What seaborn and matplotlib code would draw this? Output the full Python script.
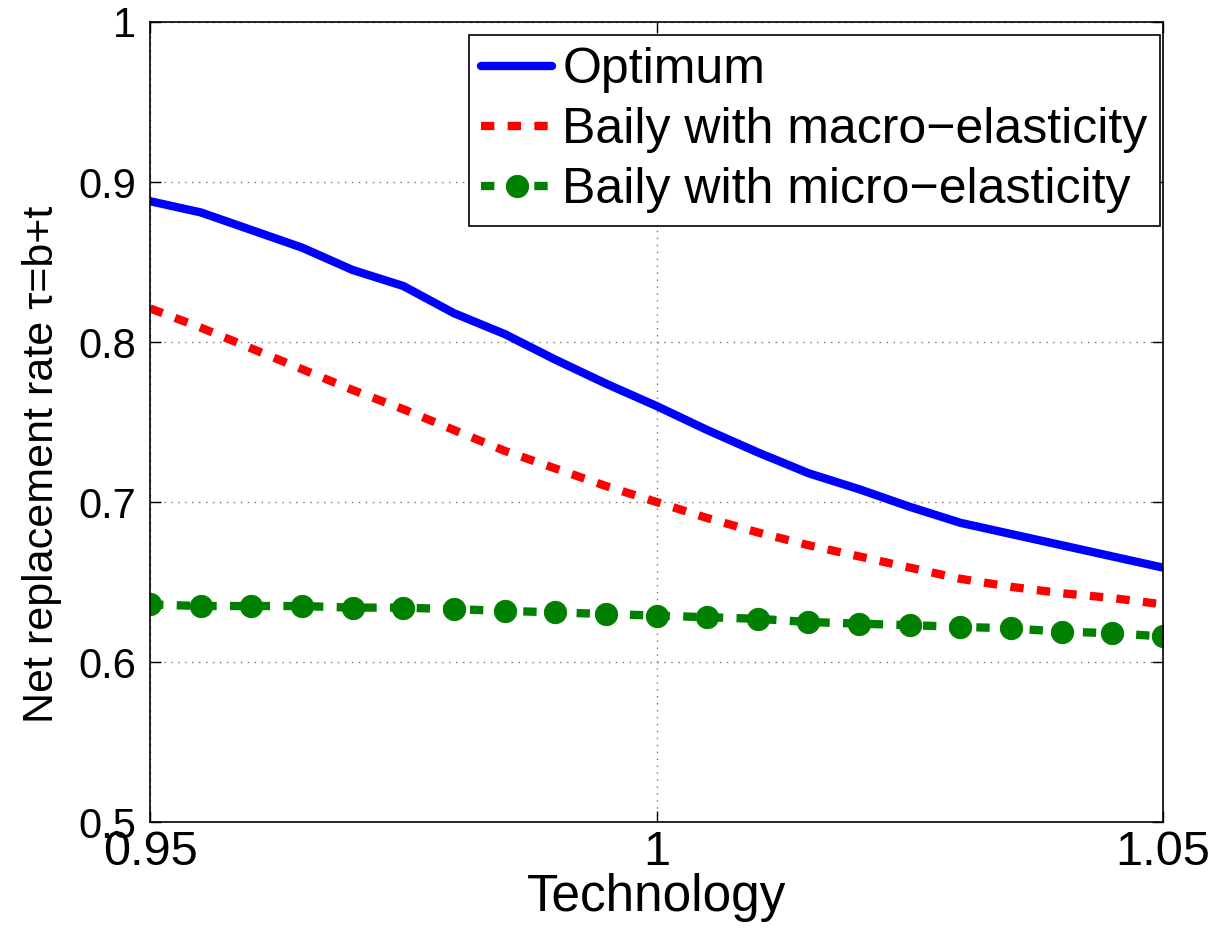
import numpy as np
import pandas as pd
import seaborn as sns
import matplotlib.pyplot as plt

# data
technology = [0.95, 0.955, 0.96, 0.965, 0.97, 0.975, 0.98, 0.985, 0.99, 0.995, 1.0,
              1.005, 1.01, 1.015, 1.02, 1.025, 1.03, 1.035, 1.04, 1.045, 1.05]
optimum = [0.888, 0.881, 0.870, 0.859, 0.845, 0.835, 0.818, 0.805, 0.789, 0.774, 0.760,
           0.745, 0.731, 0.718, 0.708, 0.697, 0.687, 0.680, 0.673, 0.666, 0.659]
baily_macro = [0.821, 0.809, 0.796, 0.783, 0.770, 0.758, 0.745, 0.732, 0.721, 0.710, 0.700,
               0.690, 0.681, 0.673, 0.666, 0.659, 0.652, 0.647, 0.643, 0.640, 0.636]
baily_micro = [0.636, 0.635, 0.635, 0.635, 0.634, 0.634, 0.633, 0.632, 0.631, 0.630, 0.629,
               0.628, 0.627, 0.625, 0.624, 0.623, 0.622, 0.621, 0.619, 0.618, 0.616]

x_ticks = [0.95, 1.0, 1.05]
x_ticklabels = ['0.95', '1', '1.05']
y_ticks = [0.5, 0.6, 0.7, 0.8, 0.9, 1.0]
y_ticklabels = ['0.5', '0.6', '0.7', '0.8', '0.9', '1']

sns.set_style('white')
plt.rcParams['font.family'] = ['Liberation Sans', 'DejaVu Sans']
plt.rcParams['text.color'] = 'black'
plt.rcParams['axes.labelcolor'] = 'black'
plt.rcParams['xtick.color'] = 'black'
plt.rcParams['ytick.color'] = 'black'

df = pd.DataFrame({'tech': technology, 'opt': optimum,
                   'macro': baily_macro, 'micro': baily_micro})

fig = plt.figure(figsize=(12.21, 9.32), dpi=100)
ax = fig.add_axes([0.1229, 0.118, 0.8296, 0.8584])

sns.lineplot(data=df, x='tech', y='opt', ax=ax, color='#0000ff', lw=6,
             label='Optimum')
sns.lineplot(data=df, x='tech', y='macro', ax=ax, color='#ff0000', lw=6,
             label='Baily with macro\u2212elasticity')
ax.lines[-1].set_dashes([1.6, 1.6])
sns.lineplot(data=df, x='tech', y='micro', ax=ax, color='#008000', lw=6,
             marker='o', markersize=16, markeredgecolor='#008000',
             label='Baily with micro\u2212elasticity')
ax.lines[-1].set_dashes([1.6, 1.6])

ax.set_xlim(0.95, 1.05)
ax.set_ylim(0.5, 1.0)
ax.set_xticks(x_ticks)
ax.set_xticklabels(x_ticklabels, fontsize=35)
ax.set_yticks(y_ticks)
ax.set_yticklabels(y_ticklabels, fontsize=30)
ax.tick_params(direction='in', length=8, width=1, top=True, right=True,
               bottom=True, left=True, color='black')
ax.tick_params(axis='x', pad=6)
ax.tick_params(axis='y', pad=10)
ax.grid(True, linestyle=(0, (1, 4)), color='0.45', linewidth=1)
for s in ax.spines.values():
    s.set_visible(True)
    s.set_color('black')
    s.set_linewidth(1.2)

ax.set_xlabel('Technology', fontsize=37, labelpad=-2)
ax.set_ylabel('Net replacement rate \u03c4=b+t', fontsize=31)
ax.yaxis.set_label_coords(-0.087, 0.4475)

leg = ax.legend(loc='upper right', bbox_to_anchor=(0.997, 0.984), borderaxespad=0,
                fontsize=36, handlelength=1.42, handletextpad=0.2,
                labelspacing=0.28, borderpad=0.25, fancybox=False, framealpha=1)
leg.get_frame().set_edgecolor('black')
leg.get_frame().set_linewidth(1.2)

fig.savefig('out.png', dpi=100)
